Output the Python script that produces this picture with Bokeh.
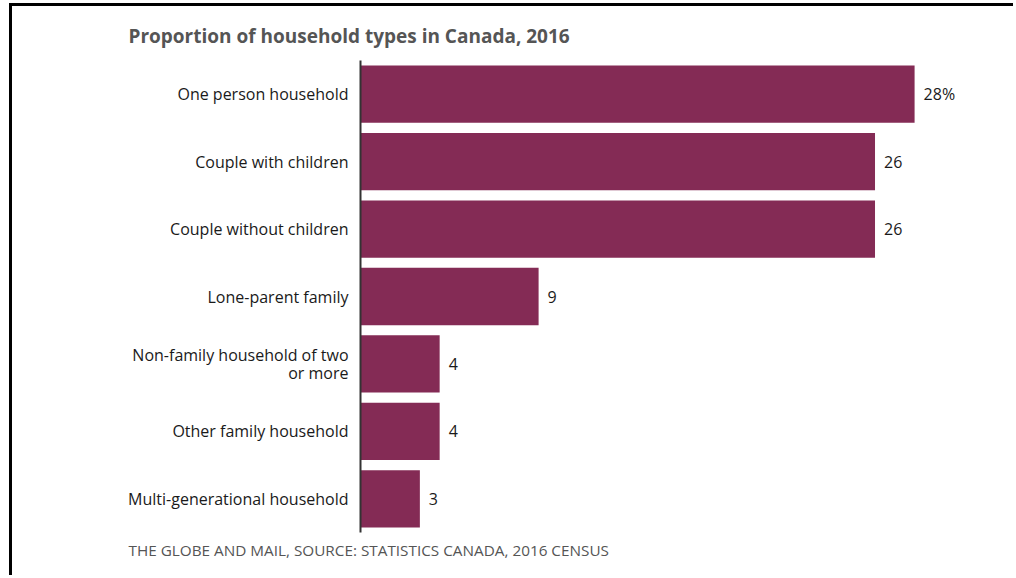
from bokeh.plotting import figure
from bokeh.models import ColumnDataSource, FactorRange, Range1d, Title
from bokeh.embed import file_html
from bokeh.resources import INLINE

categories = [
    "One person household",
    "Couple with children",
    "Couple without children",
    "Lone-parent family",
    "Non-family household of two or more",
    "Other family household",
    "Multi-generational household",
]
values = [28, 26, 26, 9, 4, 4, 3]
value_labels = ["28%", "26", "26", "9", "4", "4", "3"]
display_labels = {
    "Non-family household of two or more": "Non-family household of two\nor more",
}

title_text = "Proportion of household types in Canada, 2016"
footer_text = "THE GLOBE AND MAIL, SOURCE: STATISTICS CANADA, 2016 CENSUS"

BAR = "#842b55"
FONT = "Open Sans"

factors = [display_labels.get(c, c) for c in categories]
source = ColumnDataSource(dict(cat=factors, val=values, lab=value_labels))

p = figure(
    width=1004, height=572,
    y_range=FactorRange(factors=list(reversed(factors)), range_padding=0),
    x_range=Range1d(0, 33.15),
    output_backend="svg", toolbar_location=None,
    min_border_left=348, min_border_right=0, min_border_top=54, min_border_bottom=46,
)
p.styles = {
    "border-top": "3px solid black",
    "border-left": "3px solid black",
    "margin-left": "9px",
    "margin-top": "3px",
}

p.hbar(y="cat", right="val", left=0, height=0.85, source=source,
       fill_color=BAR, line_color=None)
p.text(x="val", y="cat", text="lab", source=source, x_offset=9,
       text_baseline="middle", text_align="left", text_font_size="16px",
       text_color="#1a1a1a", text_font={"value": FONT})

p.xaxis.visible = False
p.xgrid.visible = False
p.ygrid.visible = False
p.outline_line_color = None

ya = p.yaxis[0]
ya.axis_line_color = "#333333"
ya.axis_line_width = 2
ya.major_tick_line_color = None
ya.minor_tick_line_color = None
ya.major_label_standoff = 6
ya.major_label_text_font = FONT
ya.major_label_text_font_size = "16px"
ya.major_label_text_color = "#1a1a1a"
ya.major_label_text_line_height = 0.83

p.title.text = title_text
p.title.align = "left"
p.title.offset = -232
p.title.text_font = FONT
p.title.text_font_size = "19px"
p.title.text_font_style = "bold"
p.title.text_color = "#555555"
p.title.standoff = 23

p.add_layout(Title(text=footer_text, align="left", offset=-232,
                   text_font=FONT, text_font_size="15.3px",
                   text_font_style="normal", text_color="#555555"), "below")

open("out.html", "w").write(file_html(p, INLINE))
